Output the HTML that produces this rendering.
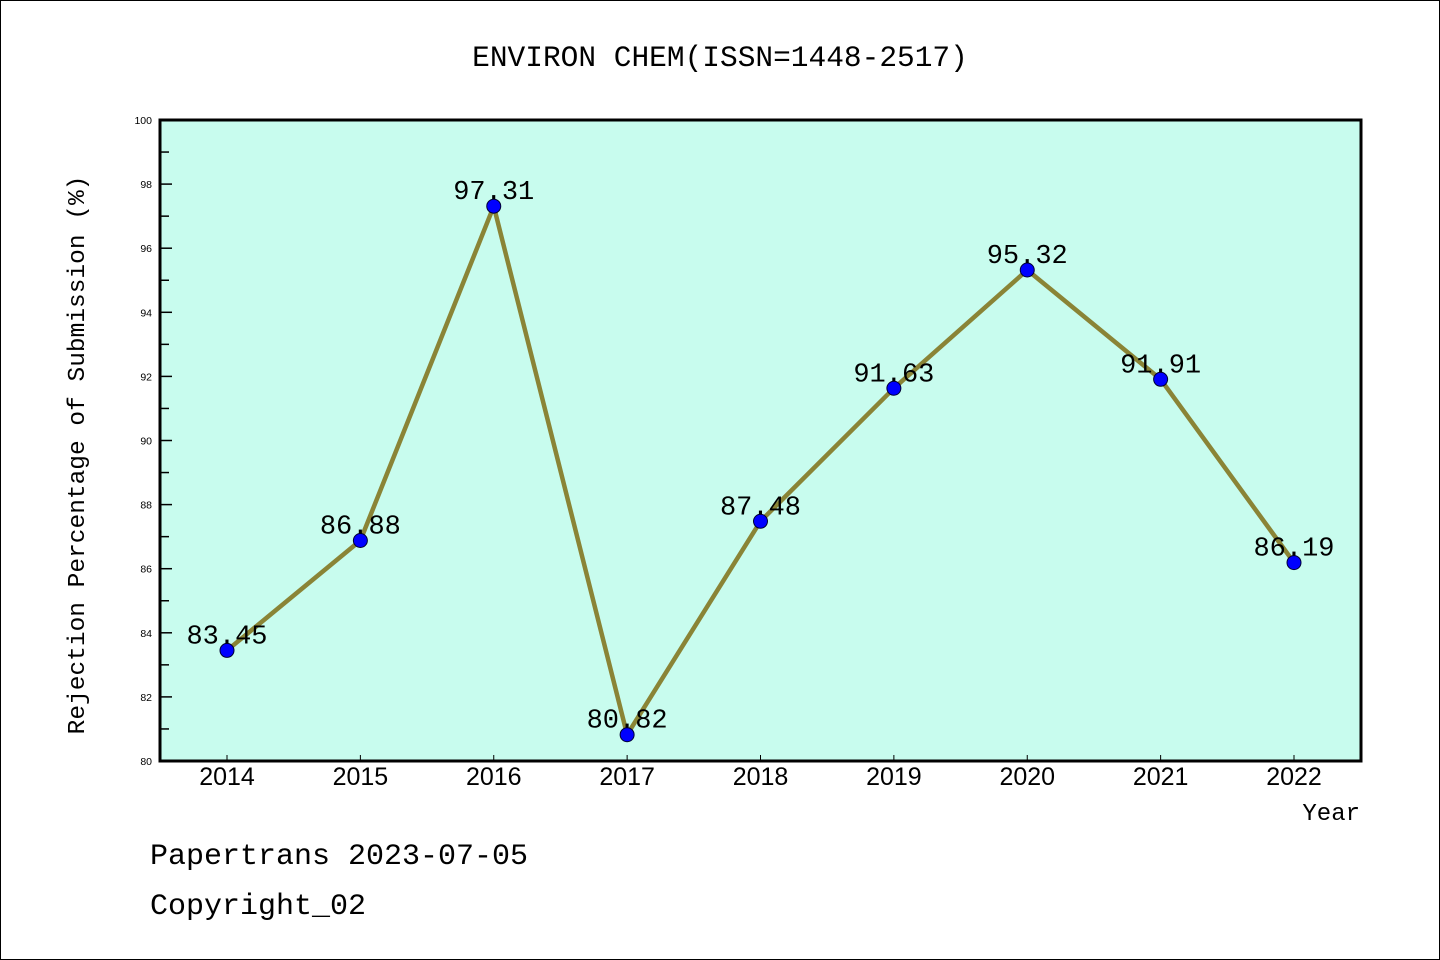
<!DOCTYPE html>
<html><head><meta charset="utf-8"><style>
html,body{margin:0;padding:0;background:#fff}
svg{display:block}
text{font-family:"Liberation Mono",monospace;fill:#000}
.sans{font-family:"Liberation Sans",sans-serif}
</style></head><body>
<svg width="1440" height="960" viewBox="0 0 1440 960">
<rect x="0.5" y="0.5" width="1439" height="959" fill="#fff" stroke="#000"/>
<text x="720" y="66" text-anchor="middle" font-size="29.5">ENVIRON CHEM(ISSN=1448-2517)</text>
<rect x="160" y="120" width="1201" height="641" fill="#c8fcee"/>
<g id="axes"></g>
<g id="marks"></g>
<rect x="160" y="120" width="1201" height="641" fill="none" stroke="#000" stroke-width="3"/>
<text x="1360" y="820" text-anchor="end" font-size="24">Year</text>
<text transform="translate(84,455) rotate(-90)" text-anchor="middle" font-size="24.5">Rejection Percentage of Submission (%)</text>
<text x="150" y="864" font-size="30">Papertrans 2023-07-05</text>
<text x="150" y="914" font-size="30">Copyright_02</text>
</svg>
<script>
const years = ["2014","2015","2016","2017","2018","2019","2020","2021","2022"];
const values = [83.45,86.88,97.31,80.82,87.48,91.63,95.32,91.91,86.19];
const yTicks = [80,82,84,86,88,90,92,94,96,98,100];
const NS="http://www.w3.org/2000/svg";
const X0=160,X1=1361,Y0=761,Y1=120,YMIN=80,YMAX=100;
const xs=i=>227+i*(1294-227)/(years.length-1);
const ys=v=>Y0-(v-YMIN)/(YMAX-YMIN)*(Y0-Y1);
function mk(tag,attrs,parent){const e=document.createElementNS(NS,tag);for(const k in attrs)e.setAttribute(k,attrs[k]);parent.appendChild(e);return e;}
const axes=document.getElementById('axes'),marks=document.getElementById('marks');
yTicks.forEach(t=>{
  const y=ys(t);
  const l=mk('line',{x1:X0,x2:X0+12,y1:y,y2:y,stroke:'#000','stroke-width':1.5},axes);
  
  
  const tx=mk('text',{x:152,y:y+4,'text-anchor':'end','font-size':10.5,'class':'sans'},axes);
  tx.textContent=t;
  
  
  if(t<YMAX){const m=ys(t+1);
    const ml=mk('line',{x1:X0,x2:X0+9,y1:m,y2:m,stroke:'#000','stroke-width':1.5},axes);
    
    }
});
years.forEach((yr,i)=>{
  const x=xs(i);
  const l=mk('line',{x1:x,x2:x,y1:Y0,y2:Y0-6,stroke:'#000','stroke-width':1},axes);
  
  
  const tx=mk('text',{x:x,y:785,'text-anchor':'middle','font-size':25,'class':'sans'},axes);
  tx.textContent=yr;
  
  
});
const pl=mk('polyline',{points:values.map((v,i)=>xs(i)+','+ys(v)).join(' '),fill:'none',stroke:'#8a8436','stroke-width':4.5,'stroke-linejoin':'round'},marks);


values.forEach((v,i)=>{
  const c=mk('circle',{cx:xs(i),cy:ys(v),r:7,fill:'#0000ff',stroke:'#000033','stroke-width':1},marks);
  
  
  const t=mk('text',{x:xs(i),y:ys(v)-7,'text-anchor':'middle','font-size':27},marks);
  t.textContent=v.toFixed(2);
  
  
});
</script>
</body></html>
